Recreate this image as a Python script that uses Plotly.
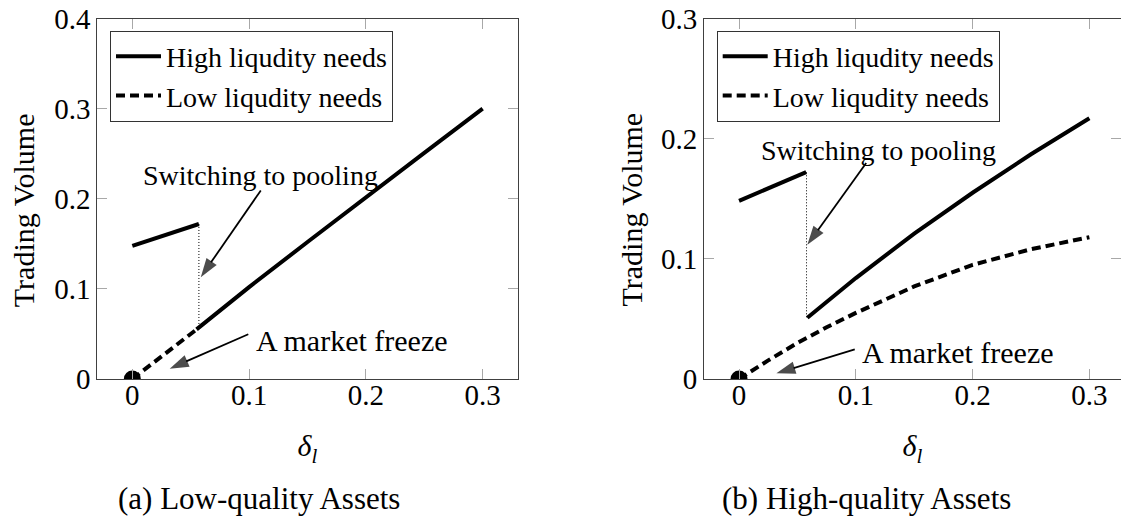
import plotly.graph_objects as go

FONT = "Liberation Serif"

# ---------------- data ----------------
# (a) Low-quality assets
a_high_x = [0.0, 0.057, None, 0.055, 0.1, 0.15, 0.2, 0.25, 0.3]
a_high_y = [0.1478, 0.172, None, 0.055, 0.102, 0.152, 0.202, 0.251, 0.300]
a_low_x = [0.0, 0.055]
a_low_y = [0.0, 0.055]
a_jump_x = [0.057, 0.057]
a_jump_y = [0.172, 0.058]

# (b) High-quality assets
b_high_x = [0.0, 0.0575, None, 0.0585, 0.1, 0.15, 0.2, 0.25, 0.3]
b_high_y = [0.1483, 0.1722, None, 0.051, 0.084, 0.121, 0.155, 0.187, 0.217]
b_low_x = [0.0, 0.025, 0.05, 0.075, 0.1, 0.15, 0.2, 0.25, 0.3]
b_low_y = [0.0, 0.0155, 0.030, 0.043, 0.055, 0.077, 0.095, 0.108, 0.118]
b_jump_x = [0.0578, 0.0578]
b_jump_y = [0.172, 0.051]

freeze_x = [0.0]
freeze_y = [0.0]

# annotation arrows (tail -> head)
a_switch_arrow_x = [0.110, 0.0586]
a_switch_arrow_y = [0.2092, 0.113]
a_freeze_arrow_x = [0.0993, 0.032]
a_freeze_arrow_y = [0.0497, 0.0115]
b_switch_arrow_x = [0.1089, 0.0585]
b_switch_arrow_y = [0.1797, 0.1117]
b_freeze_arrow_x = [0.0991, 0.032]
b_freeze_arrow_y = [0.0247, 0.0047]

x_ticks = [0, 0.1, 0.2, 0.3]
x_ticktext = ["0", "0.1", "0.2", "0.3"]
a_y_ticks = [0, 0.1, 0.2, 0.3, 0.4]
a_y_ticktext = ["0", "0.1", "0.2", "0.3", "0.4"]
b_y_ticks = [0, 0.1, 0.2, 0.3]
b_y_ticktext = ["0", "0.1", "0.2", "0.3"]

name_high = "High liqudity needs"
name_low = "Low liqudity needs"
y_title = "Trading Volume"
x_title = "<i>δ<sub>l</sub></i>"

# ---------------- figure ----------------
fig = go.Figure()

LW = 4
DASH = "9px,5px"


def add_arrow(xa, ya, ax, ay):
    fig.add_trace(go.Scatter(x=ax, y=ay, mode="lines+markers", xaxis=xa, yaxis=ya,
                             line=dict(color="black", width=1.8),
                             marker=dict(symbol="arrow", size=[0, 20], angleref="previous",
                                         color="black", line=dict(width=0)),
                             showlegend=False, hoverinfo="skip", cliponaxis=False))


def add_panel(xa, ya, legend, hx, hy, lx, ly, jx, jy):
    fig.add_trace(go.Scatter(x=jx, y=jy, mode="lines", xaxis=xa, yaxis=ya,
                             line=dict(color="black", width=1, dash="1px,2px"),
                             showlegend=False, hoverinfo="skip"))
    fig.add_trace(go.Scatter(x=hx, y=hy, mode="lines", xaxis=xa, yaxis=ya,
                             name=name_high, legend=legend,
                             line=dict(color="black", width=LW)))
    fig.add_trace(go.Scatter(x=lx, y=ly, mode="lines", xaxis=xa, yaxis=ya,
                             name=name_low, legend=legend,
                             line=dict(color="black", width=LW, dash=DASH)))
    fig.add_trace(go.Scatter(x=freeze_x, y=freeze_y, mode="markers", xaxis=xa, yaxis=ya,
                             marker=dict(color="black", size=17),
                             showlegend=False, cliponaxis=True))


add_panel("x", "y", "legend", a_high_x, a_high_y, a_low_x, a_low_y, a_jump_x, a_jump_y)
add_panel("x2", "y2", "legend2", b_high_x, b_high_y, b_low_x, b_low_y, b_jump_x, b_jump_y)
add_arrow("x", "y", a_switch_arrow_x, a_switch_arrow_y)
add_arrow("x", "y", a_freeze_arrow_x, a_freeze_arrow_y)
add_arrow("x2", "y2", b_switch_arrow_x, b_switch_arrow_y)
add_arrow("x2", "y2", b_freeze_arrow_x, b_freeze_arrow_y)

W, H = 1121, 516

axis_common = dict(showline=True, linecolor="#404040", linewidth=1, mirror="allticks",
                   ticks="inside", ticklen=10, tickwidth=1, tickcolor="#a8a8a8",
                   showgrid=False, zeroline=False, automargin=False,
                   tickfont=dict(family=FONT, size=29, color="black"))
title_font = dict(family=FONT, size=30, color="black")
xtitle = dict(text=x_title, font=title_font, standoff=25)

ydom = [1 - 379 / H, 1 - 18.5 / H]

fig.update_layout(
    template="none",
    width=W, height=H,
    margin=dict(l=0, r=0, t=0, b=0, pad=0, autoexpand=False),
    paper_bgcolor="white", plot_bgcolor="white",
    showlegend=True,
    xaxis=dict(domain=[97.3 / W, 517.7 / W], range=[-0.03, 0.33], anchor="y",
               tickvals=x_ticks, ticktext=x_ticktext, ticklabelstandoff=-10,
               title=xtitle, **axis_common),
    yaxis=dict(domain=ydom, range=[0, 0.4], anchor="x",
               tickvals=a_y_ticks, ticktext=a_y_ticktext, **axis_common),
    xaxis2=dict(domain=[704 / W, 1.0], range=[-0.03, (1121 - 739.3) / 1167], anchor="y2",
                tickvals=x_ticks, ticktext=x_ticktext, ticklabelstandoff=-10,
                title=xtitle, **axis_common),
    yaxis2=dict(domain=ydom, range=[0, 0.3], anchor="x2",
                tickvals=b_y_ticks, ticktext=b_y_ticktext, **axis_common),
    legend=dict(x=110 / W, y=1 - 30.5 / H, xanchor="left", yanchor="top",
                bgcolor="white", bordercolor="#333333", borderwidth=1,
                font=dict(family=FONT, size=28, color="black"),
                itemwidth=45, tracegroupgap=0),
    legend2=dict(x=716.7 / W, y=1 - 30.5 / H, xanchor="left", yanchor="top",
                 bgcolor="white", bordercolor="#333333", borderwidth=1,
                 font=dict(family=FONT, size=28, color="black"),
                 itemwidth=45, tracegroupgap=0),
)

ann = []
txt_font = dict(family=FONT, size=28, color="black")
frz_font = dict(family=FONT, size=30, color="black")

# panel (a)
ann.append(dict(x=0.110, y=0.2256, xref="x", yref="y", text="Switching to pooling",
                showarrow=False, xanchor="center", yanchor="middle", font=txt_font))
ann.append(dict(x=0.104, y=0.0424, xref="x", yref="y", text="A market freeze",
                showarrow=False, xanchor="left", yanchor="middle", font=frz_font))
# panel (b)
ann.append(dict(x=0.1195, y=0.19, xref="x2", yref="y2", text="Switching to pooling",
                showarrow=False, xanchor="center", yanchor="middle", font=txt_font))
ann.append(dict(x=0.1034, y=0.0221, xref="x2", yref="y2", text="A market freeze",
                showarrow=False, xanchor="left", yanchor="middle", font=frz_font))

# y-axis titles
for xc in (23.2, 630.5):
    ann.append(dict(x=xc / W, y=1 - 210 / H, xref="paper", yref="paper",
                    text=y_title, textangle=-90, showarrow=False,
                    xanchor="center", yanchor="middle", font=title_font))

# sub-figure captions
for xc, cap in ((259, "(a) Low-quality Assets"), (866.3, "(b) High-quality Assets")):
    ann.append(dict(x=xc / W, y=1 - 498.3 / H, xref="paper", yref="paper",
                    text=cap, showarrow=False, xanchor="center", yanchor="middle",
                    font=dict(family=FONT, size=31, color="black")))

fig.update_layout(annotations=ann)

fig.write_html("out.html")
